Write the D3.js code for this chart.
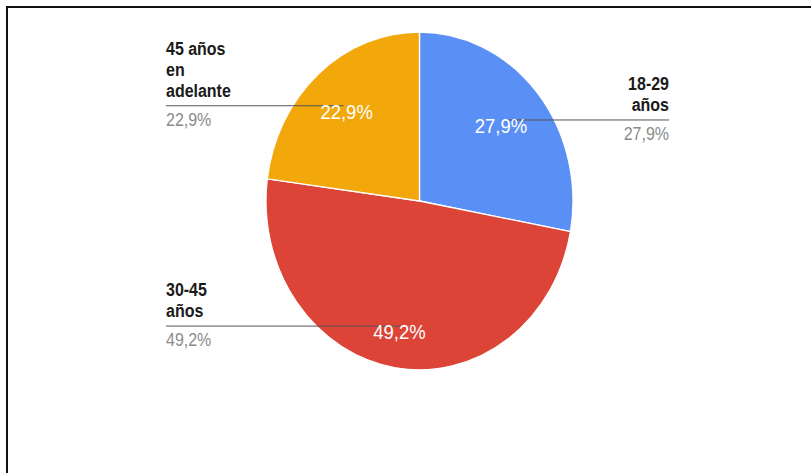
<!DOCTYPE html>
<html>
<head>
<meta charset="utf-8">
<script src="https://cdn.jsdelivr.net/npm/d3@7/dist/d3.min.js"></script>
<style>
  html, body { margin: 0; padding: 0; background: #fff; }
  svg { display: block; }
</style>
</head>
<body>
<svg id="chart" width="811" height="473"></svg>
<script>
// Age groups and their share of respondents (%)
const categories = ["18-29 años", "30-45 años", "45 años en adelante"];
const values = [27.9, 49.2, 22.9];
const valueLabels = ["27,9%", "49,2%", "22,9%"];
// Multi-line wording of the outside labels
const labelLines = [["18-29", "años"], ["30-45", "años"], ["45 años", "en", "adelante"]];
const colors = ["#5a8ff5", "#db4437", "#f2a70a"];

const W = 811, H = 473;
const svg = d3.select("#chart");

// Frame
svg.append("rect")
  .attr("x", 7).attr("y", 7)
  .attr("width", W + 20).attr("height", H + 20)
  .attr("fill", "none").attr("stroke", "#111").attr("stroke-width", 2);

// Pie geometry (drawn with a slight vertical stretch)
const cx = 419.5, cy = 201, r = 153.5, sy = 1.1;
const fontFamily = "'Liberation Sans', Arial, sans-serif";

const pie = d3.pie().sort(null).value(d => d)(values);
const arc = d3.arc().innerRadius(0).outerRadius(r);

const pieG = svg.append("g")
  .attr("transform", `translate(${cx},${cy}) scale(1,${sy})`);

pieG.selectAll("path")
  .data(pie)
  .join("path")
  .attr("d", arc)
  .attr("fill", (d, i) => colors[i])
  .attr("stroke", "#fff")
  .attr("stroke-width", 1.3)
  .attr("vector-effect", "non-scaling-stroke");

// Anchor point inside each slice, along the mid angle
const kAnchor = 0.75;
function anchor(d) {
  const a = (d.startAngle + d.endAngle) / 2;
  return [cx + r * kAnchor * Math.sin(a), cy - r * kAnchor * Math.cos(a) * sy];
}

const leftX = 166, rightX = 669, lineH = 21;
// small horizontal nudges for the in-slice value text
const innerNudge = [-7, -2, 3];

function stretchedText(g, x, y, txt, opts) {
  g.append("text")
    .attr("transform", `translate(${x},${y}) scale(1,${sy})`)
    .attr("text-anchor", opts.anchor || "start")
    .attr("font-family", fontFamily)
    .attr("font-size", opts.size)
    .attr("font-weight", opts.weight || "normal")
    .attr("fill", opts.fill)
    .text(txt);
}

const labelsG = svg.append("g");
pie.forEach((d, i) => {
  const [ax, ay] = anchor(d);
  const mid = (d.startAngle + d.endAngle) / 2;
  const onRight = Math.sin(mid) > 0;
  const tx = onRight ? rightX : leftX;
  const ta = onRight ? "end" : "start";

  // leader line
  labelsG.append("line")
    .attr("x1", tx).attr("x2", ax)
    .attr("y1", ay).attr("y2", ay)
    .attr("stroke", "#555").attr("stroke-width", 1);

  // category name above the line
  const lines = labelLines[i];
  lines.forEach((t, j) => {
    const by = ay - 9 - (lines.length - 1 - j) * lineH;
    stretchedText(labelsG, tx, by, t, { anchor: ta, size: 16, weight: "bold", fill: "#1a1a1a" });
  });

  // value below the line
  stretchedText(labelsG, tx, ay + 20, valueLabels[i], { anchor: ta, size: 16, fill: "#8a8a8a" });
});

// Values inside the slices
pie.forEach((d, i) => {
  const [ax, ay] = anchor(d);
  stretchedText(labelsG, ax + innerNudge[i], ay + 13, valueLabels[i],
    { anchor: "middle", size: 18.5, fill: "#ffffff" });
});
</script>
</body>
</html>
